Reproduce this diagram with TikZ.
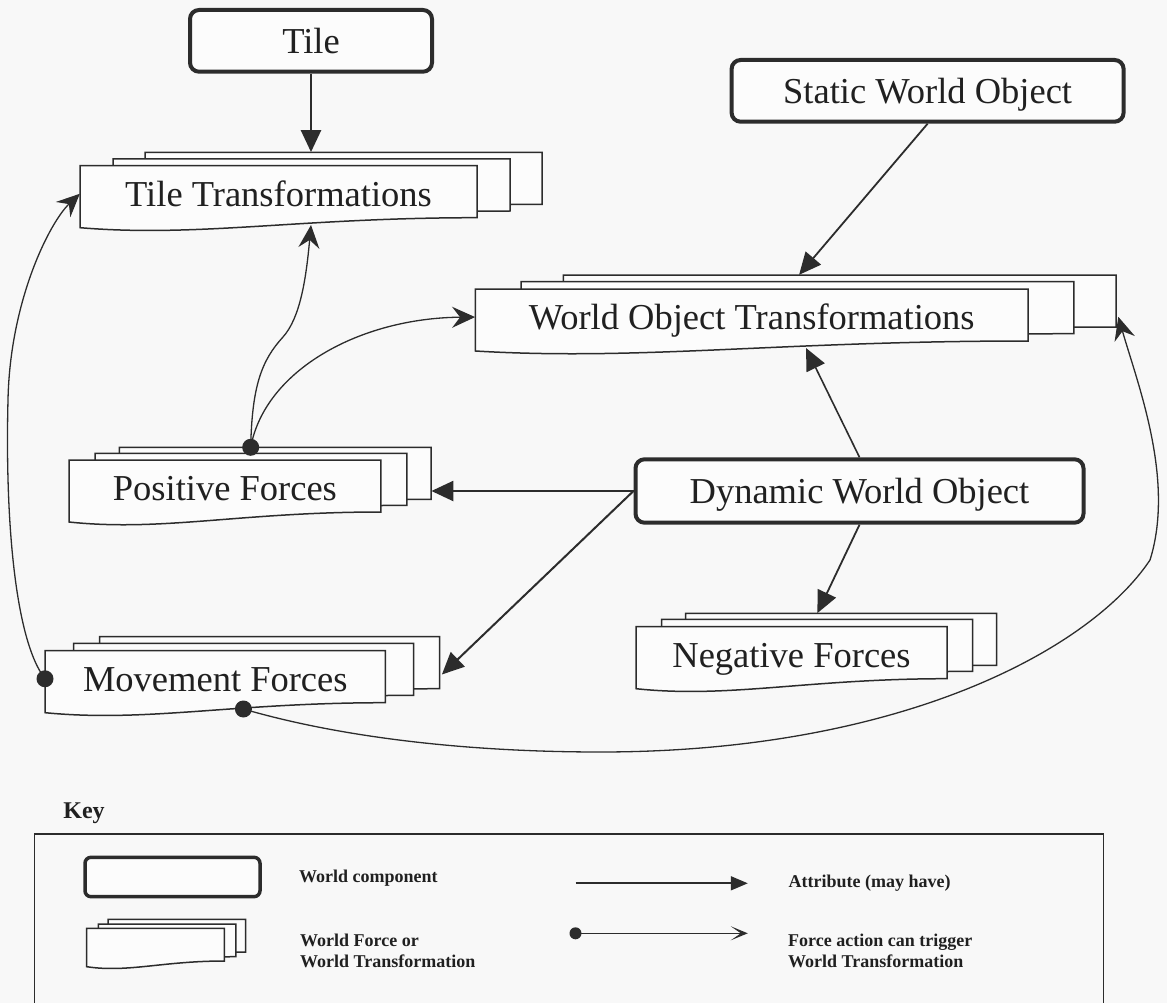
\documentclass[tikz,border=0pt]{standalone}
\usepackage{fontspec}
\setmainfont{Liberation Serif}
\usetikzlibrary{arrows.meta,calc}

\definecolor{ink}{HTML}{2C2C2C}
\definecolor{txt}{HTML}{202020}
\definecolor{paper}{HTML}{F8F8F8}
\definecolor{sheetfill}{HTML}{FCFCFC}

\newcommand\nodefont{\fontsize{36.5}{40}\selectfont}
\newcommand\legendfont{\bfseries\fontsize{18}{21.7}\selectfont}
\newcommand\legendhead{\bfseries\fontsize{24}{28}\selectfont}

% sheet heights at the left and right end of the wavy bottom edge
\def\hL{62}
\def\hR{52}

% one page with a wavy bottom: left, top, width, left height, right height
\newcommand\docsheet[5]{%
  \filldraw[sheet] ({#1},{#2}) -- ({#1+#3},{#2}) -- ({#1+#3},{#2+#5})
    .. controls ({#1+0.55*#3},{#2+#5}) and ({#1+0.3*#3},{#2+#4+0.19*#5})
    .. ({#1},{#2+#4}) -- cycle;}

% a stack of three pages: name, left, top, width, dx1, dy1, dx2, dy2, label
\newcommand\docstack[9]{%
  \docsheet{#2+#7}{#3-#8}{#4}{\hL}{\hR}
  \docsheet{#2+#5}{#3-#6}{#4}{\hL}{\hR}
  \docsheet{#2}{#3}{#4}{\hL}{\hR}
  \node[inner sep=0pt, minimum width=#4pt, minimum height=\hR pt]
    (#1-b) at ({#2+#7+#4/2},{#3-#8+\hR/2}) {};
  \node[stacklabel, minimum width=#4pt, minimum height=\hR pt]
    (#1) at ({#2+#4/2},{#3+0.54*\hR}) {#9};}

\begin{document}
\begin{tikzpicture}[x=1pt,y=-1pt,
  world/.style={draw=ink, line width=4pt, rounded corners=9pt, fill=sheetfill,
    inner sep=0pt, text=txt, font=\nodefont, text height=25pt, text depth=0pt},
  sheet/.style={draw=ink, line width=1.5pt, fill=sheetfill, line join=miter},
  stacklabel/.style={inner sep=0pt, text=txt, font=\nodefont,
    text height=25pt, text depth=0pt},
  attr/.style={draw=ink, line width=1.8pt, -{Triangle[length=22pt,width=20pt]}},
  force/.style={draw=ink, line width=1.3pt,
    -{Stealth[length=23pt,width=21pt,inset=8pt]}},
  trigdot/.style={fill=ink},
  keytext/.style={font=\legendfont, text=txt, anchor=west, inner sep=0pt, align=left}]

\fill[paper] (0,0) rectangle (1167,1003);
\useasboundingbox (0,0) rectangle (1167,1003);

% world components
\node[world, minimum width=242pt, minimum height=61.7pt] (tile) at (311,40.85) {Tile};
\node[world, minimum width=392pt, minimum height=61.7pt] (static) at (927.6,90.85) {Static World Object};
\node[world, minimum width=448pt, minimum height=63.4pt] (dynamic) at (859.5,491) {Dynamic World Object};

% forces and transformations
\docstack{tt}{80}{165.7}{397}{33}{6.7}{65}{13.4}{Tile Transformations}
\docstack{wot}{475.3}{289}{552.8}{45.7}{7.3}{88}{14}{World Object Transformations}
\docstack{pos}{69}{460}{311.8}{26}{6.7}{50.4}{12.7}{Positive Forces}
\docstack{mov}{45.2}{650.7}{340.2}{28.3}{7.4}{54.3}{14}{Movement Forces}
\docstack{neg}{636}{626.7}{311}{25.6}{7.4}{49.6}{13.4}{Negative Forces}

% attachment points on the wavy page edges
\coordinate (pos-trig) at (250.7,447.3);
\coordinate (mov-trig) at (243.4,709);
\coordinate (tt-in) at (311,225);
\coordinate (wot-in) at (806,348);

% attribute links
\draw[attr, line width=2.5pt] (tile.south) -- (tile.south |- tt-b.north);
\draw[attr] (static.south) -- ($(wot-b.north west)+(236,0)$);
\draw[attr, line width=1.6pt] (dynamic.north) -- (wot-in);
\draw[attr, line width=2.4pt] (dynamic.west) -- (pos-b.east |- dynamic.west);
\draw[attr, line width=2pt] (dynamic.west) -- ($(mov-b.north east)+(2,38)$);
\draw[attr] (dynamic.south) -- ($(neg-b.north west)+(132,0)$);

% force triggers
\draw[force] (pos-trig) .. controls (252,385) and (262,360) .. (283,337)
  .. controls (300,318) and (306,280) .. (tt-in);
\draw[force] (pos-trig) .. controls (265,370) and (360,318) .. (wot.west);
\draw[force] (mov.west) .. controls (15,640) and (5,520) .. (8,400)
  .. controls (10,300) and (50,222) .. (tt.west);
\draw[force] (mov-trig) .. controls (350,740) and (480,752) .. (600,752)
  .. controls (900,752) and (1090,650) .. (1150,560)
  .. controls (1175,480) and (1138,385) .. ($(wot-b.north east)+(2,42)$);
\fill[trigdot] (pos-trig) circle[radius=8.5pt];
\fill[trigdot] (mov.west) circle[radius=8.5pt];
\fill[trigdot] (mov-trig) circle[radius=8.5pt];

% key
\node[font=\legendhead, text=txt, inner sep=0pt] (keytitle) at (84,813) {Key};
\draw[ink, line width=1.5pt] (34.4,1003) -- (34.4,834) -- (1103.5,834) -- (1103.5,1003);
\node[world, line width=3.5pt, rounded corners=6pt, minimum width=175pt, minimum height=39.4pt]
  (key-world) at (172.5,877) {};
\node[keytext] (key-world-txt) at (299,878.3) {World component};
\def\hL{38.4}
\def\hR{32.7}
\docstack{key-stack}{86.7}{928.3}{137.6}{11.6}{4.3}{21.3}{9}{}
\node[keytext] (key-stack-txt) at (300,951) {World Force or\\World Transformation};

\coordinate (attr-from) at (575.5,883.3);
\coordinate (attr-to) at (747.8,883.3);
\draw[attr, line width=1.7pt, -{Triangle[length=17pt,width=14pt]}] (attr-from) -- (attr-to);
\node[keytext] (attr-txt) at (788.4,883) {Attribute (may have)};

\coordinate (force-from) at (575.5,933.3);
\coordinate (force-to) at (747.8,933.3);
\draw[force, line width=1.6pt, -{Stealth[length=17pt,width=14pt,inset=10pt]}] (force-from) -- (force-to);
\fill[trigdot] (force-from) circle[radius=6pt];
\node[keytext] (force-txt) at (788,951) {Force action can trigger\\World Transformation};
\end{tikzpicture}
\end{document}
